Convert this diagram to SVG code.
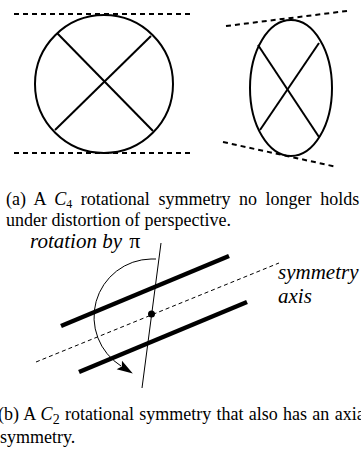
<svg xmlns="http://www.w3.org/2000/svg" width="361" height="452" viewBox="0 0 361 452">
<style>
.bold{fill:none;stroke:#000;stroke-width:2}
.dash{fill:none;stroke:#000;stroke-width:2;stroke-dasharray:5 4}
.thick{fill:none;stroke:#000;stroke-width:4.5}
.thin{fill:none;stroke:#000;stroke-width:1}
.thindash{fill:none;stroke:#000;stroke-width:1;stroke-dasharray:4 3}
.cap{font-family:'Liberation Serif','Times New Roman','DejaVu Serif',serif;font-size:18px;fill:#000}
.lab{font-family:'Liberation Serif','Times New Roman','DejaVu Serif',serif;font-size:21px;font-style:italic;fill:#000}
</style>
<defs>
<marker id="ah" markerWidth="18" markerHeight="12" refX="2" refY="6" orient="auto" markerUnits="userSpaceOnUse">
<path d="M0,1 L16,6 L0,11 L3,6 Z" fill="#000"/>
</marker>
</defs>
<g id="circle-figure">
<line class="dash" x1="14" y1="14" x2="193" y2="14"/>
<line class="dash" x1="14" y1="153" x2="193" y2="153"/>
<circle class="bold" cx="104" cy="84" r="69"/>
<line class="bold" x1="57" y1="33" x2="153" y2="131"/>
<line class="bold" x1="151" y1="36" x2="55" y2="130"/>
</g>
<g id="ellipse-figure">
<line class="dash" x1="226" y1="26" x2="347" y2="11"/>
<line class="dash" x1="223" y1="142" x2="337" y2="167"/>
<ellipse class="bold" cx="291" cy="88" rx="41" ry="68"/>
<line class="bold" x1="258" y1="45" x2="319" y2="137"/>
<line class="bold" x1="319" y1="43" x2="260" y2="130"/>
</g>
<g id="caption-a">
<text class="cap" x="6" y="205" word-spacing="4.1">(a)  A <tspan font-style="italic">C</tspan><tspan font-size="12" dy="3">4</tspan><tspan dy="-3"> rotational symmetry no longer holds</tspan></text>
<text class="cap" x="6" y="226">under distortion of perspective.</text>
</g>
<g id="bars">
<line class="thick" x1="61" y1="326" x2="229" y2="256"/>
<line class="thick" x1="79" y1="372" x2="247" y2="302"/>
</g>
<g id="connectors">
<line class="thindash" x1="36" y1="362" x2="279" y2="263"/>
<line class="thin" x1="161" y1="243" x2="142" y2="388"/>
<path class="thin" d="M156,259 L151,259 A58,58 0 0 0 121,366" marker-end="url(#ah)"/>
</g>
<g id="center">
<circle cx="151.5" cy="314" r="3.5" fill="#000"/>
</g>
<g id="labels">
<text class="lab" x="30" y="248">rotation by <tspan font-style="normal" font-size="22" dx="2">π</tspan></text>
<text class="lab" x="278" y="279">symmetry</text>
<text class="lab" x="278" y="303">axis</text>
</g>
<g id="caption-b">
<text class="cap" x="-2" y="420" word-spacing="0.8">(b)  A <tspan font-style="italic">C</tspan><tspan font-size="14" dy="4">2</tspan><tspan dy="-4"> rotational symmetry that also has an axial</tspan></text>
<text class="cap" x="0" y="443">symmetry.</text>
</g>
</svg>
